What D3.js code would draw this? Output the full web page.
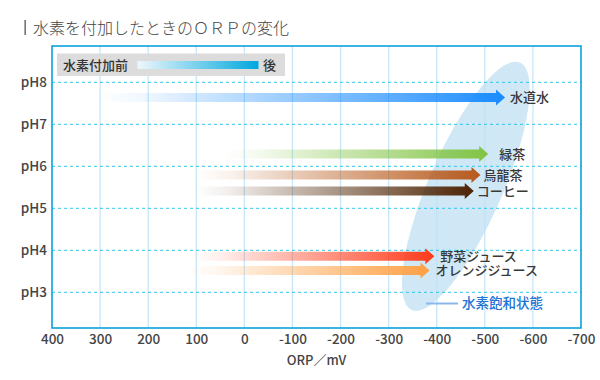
<!DOCTYPE html>
<html><head><meta charset="utf-8">
<script src="https://cdn.jsdelivr.net/npm/d3@7"></script>
<style>
body{margin:0;background:#fff;}
svg{display:block;font-family:"Noto Sans CJK JP","Noto Sans",sans-serif;}
</style></head>
<body><svg id="c" width="600" height="380"></svg>
<script>
// ---- data ----
const titleText = "水素を付加したときのＯＲＰの変化";
const orpTicks = [400,300,200,100,0,-100,-200,-300,-400,-500,-600,-700];
const pHTicks = [3,4,5,6,7,8];
const drinks = ["水道水","緑茶","烏龍茶","コーヒー","野菜ジュース","オレンジジュース"];
const drinkPH = [7.64,6.29,5.79,5.41,3.86,3.52];
const orpBefore = [300,40,100,100,110,120];
const orpAfter = [-542,-507,-491,-477,-395,-385];
const saturationTop = [-573,8.47];
const saturationBottom = [-348,2.58];
const legendBefore = "水素付加前", legendAfter = "後";
const saturationLabel = "水素飽和状態";
const xTitle = "ORP／mV";

// ---- styles ----
const colors = ["#1a8cff","#82c444","#b85a1c","#4e2404","#ff3b1c","#ffa043"];
const labelGap = [5,11,3,3,6,6];
const W = 500;

const svg = d3.select("#c");
const L=52,R=581,T=46,B=328;
const x = d3.scaleLinear().domain([400,-700]).range([L,R]);
const y = d3.scaleLinear().domain([3,8]).range([292.3,82.3]);

// title
svg.append("rect").attr("x",24.5).attr("y",20).attr("width",1.3).attr("height",15).attr("fill","#555");
svg.append("text").attr("x",33).attr("y",34).attr("font-size",16).attr("fill","#444")
  .attr("font-weight",300).text(titleText);

// saturation ellipse
const p1=[x(saturationTop[0]),y(saturationTop[1])], p2=[x(saturationBottom[0]),y(saturationBottom[1])];
const cx=(p1[0]+p2[0])/2, cy=(p1[1]+p2[1])/2;
const rx=Math.hypot(p1[0]-p2[0],p1[1]-p2[1])/2;
const ang=Math.atan2(p1[1]-p2[1],p1[0]-p2[0])*180/Math.PI;
svg.append("ellipse").attr("cx",cx).attr("cy",cy).attr("rx",rx).attr("ry",37)
  .attr("transform",`rotate(${ang},${cx},${cy})`).attr("fill","#d0e7f5");

// vertical grid
svg.append("g").selectAll("line").data(orpTicks.slice(1,-1)).join("line")
  .attr("x1",d=>x(d)).attr("x2",d=>x(d)).attr("y1",T).attr("y2",B)
  .attr("stroke","#bfe2f6").attr("stroke-width",1.3).attr("opacity",0.85);
// horizontal dashed grid
svg.append("g").selectAll("line").data(pHTicks).join("line")
  .attr("x1",L).attr("x2",R).attr("y1",d=>y(d)).attr("y2",d=>y(d))
  .attr("stroke","#2ec6ec").attr("stroke-width",1).attr("stroke-dasharray","3,3");

// frame
svg.append("rect").attr("x",L).attr("y",T).attr("width",R-L).attr("height",B-T)
  .attr("fill","none").attr("stroke","#0aa2de").attr("stroke-width",1.6);

// axes
const xa = svg.append("g").attr("transform",`translate(0,${B})`)
  .call(d3.axisBottom(x).tickValues(orpTicks).tickSize(0).tickPadding(6).tickFormat(d=>String(d)));
xa.select(".domain").remove();
xa.selectAll("text").attr("font-size",13.5).attr("font-weight",W).attr("fill","#444")
  .attr("font-family","'Noto Sans CJK JP',sans-serif");
const ya = svg.append("g").attr("transform",`translate(${L},0)`)
  .call(d3.axisLeft(y).tickValues(pHTicks).tickSize(0).tickPadding(5).tickFormat(d=>"pH"+d));
ya.select(".domain").remove();
ya.selectAll("text").attr("font-size",13.5).attr("font-weight",W).attr("fill","#444")
  .attr("font-family","'Noto Sans CJK JP',sans-serif");
svg.append("text").attr("x",(L+R)/2).attr("y",365).attr("text-anchor","middle")
  .attr("font-size",13).attr("font-weight",W).attr("fill","#444").text(xTitle);

// arrows
const defs = svg.append("defs");
const shaftH=9, headH=16, headL=9;
drinks.forEach((name,i)=>{
  const x0=x(orpBefore[i]), x1=x(orpAfter[i]), yc=y(drinkPH[i]);
  const g = defs.append("linearGradient").attr("id","g"+i).attr("gradientUnits","userSpaceOnUse")
    .attr("x1",x0).attr("x2",x1).attr("y1",0).attr("y2",0);
  g.append("stop").attr("offset",0).attr("stop-color",colors[i]).attr("stop-opacity",0);
  g.append("stop").attr("offset",0.12).attr("stop-color",colors[i]).attr("stop-opacity",0.08);
  g.append("stop").attr("offset",1).attr("stop-color",colors[i]).attr("stop-opacity",1);
  const pts=[[x0,yc-shaftH/2],[x1-headL,yc-shaftH/2],[x1-headL,yc-headH/2],[x1,yc],
             [x1-headL,yc+headH/2],[x1-headL,yc+shaftH/2],[x0,yc+shaftH/2]];
  svg.append("path").attr("d",d3.line()(pts)+"Z").attr("fill",`url(#g${i})`);
  svg.append("text").attr("x",x1+labelGap[i]).attr("y",yc).attr("dy","0.36em")
    .attr("font-size",13).attr("font-weight",W).attr("fill","#383838").text(name);
});

// legend
svg.append("rect").attr("x",57).attr("y",53.5).attr("width",228).attr("height",22.5).attr("fill","#dcdcdc");
const lg = defs.append("linearGradient").attr("id","lg");
lg.append("stop").attr("offset",0).attr("stop-color","#eef7fc");
lg.append("stop").attr("offset",1).attr("stop-color","#00a8de");
svg.append("rect").attr("x",137.5).attr("y",61).attr("width",121).attr("height",8).attr("fill","url(#lg)");
svg.append("text").attr("x",63).attr("y",65).attr("dy","0.36em").attr("font-size",13)
  .attr("font-weight",W).attr("fill","#333").text(legendBefore);
svg.append("text").attr("x",263).attr("y",65).attr("dy","0.36em").attr("font-size",13)
  .attr("font-weight",W).attr("fill","#333").text(legendAfter);

// saturation legend
svg.append("line").attr("x1",426).attr("x2",458).attr("y1",303.5).attr("y2",303.5)
  .attr("stroke","#8ab8ea").attr("stroke-width",2);
svg.append("text").attr("x",462).attr("y",303.5).attr("dy","0.36em").attr("font-size",13.5)
  .attr("font-weight",W).attr("fill","#2273d6").text(saturationLabel);
</script></body></html>
